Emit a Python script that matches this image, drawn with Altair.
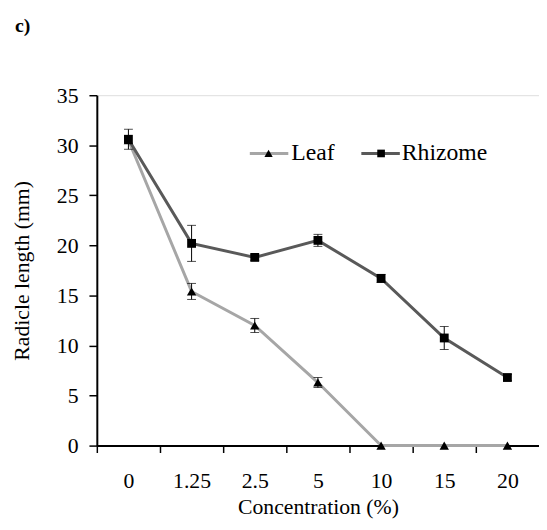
import altair as alt
import pandas as pd

categories = ["0", "1.25", "2.5", "5", "10", "15", "20"]
leaf_mean = [30.5, 15.4, 12.0, 6.3, 0.0, 0.0, 0.0]
leaf_err = [0.0, 0.8, 0.7, 0.5, 0.0, 0.0, 0.0]
rhizome_mean = [30.6, 20.2, 18.8, 20.5, 16.7, 10.75, 6.8]
rhizome_err = [1.0, 1.8, 0.3, 0.6, 0.4, 1.15, 0.3]
y_ticks = [0, 5, 10, 15, 20, 25, 30, 35]

rows = []
for i, c in enumerate(categories):
    rows.append({"idx": i, "conc": c, "series": "Leaf", "mean": leaf_mean[i], "err": leaf_err[i]})
for i, c in enumerate(categories):
    rows.append({"idx": i, "conc": c, "series": "Rhizome", "mean": rhizome_mean[i], "err": rhizome_err[i]})
df = pd.DataFrame(rows)
df["lo"] = df["mean"] - df["err"]
df["hi"] = df["mean"] + df["err"]

FONT = "Liberation Serif"
n = len(categories)
W = 448
band = W / n
tick_vals = [i - 0.5 for i in range(n)]
# label for the tick at (i - 0.5) is category i, shifted half a band to the right
expr = "''"
for i in reversed(range(n)):
    expr = "(round(datum.value + 0.5) == %d ? '%s' : %s)" % (i, categories[i], expr)

x_enc = alt.X(
    "idx:Q",
    scale=alt.Scale(domain=[-0.5, n - 0.5], nice=False, zero=False),
    axis=alt.Axis(
        values=tick_vals,
        labelExpr=expr,
        labelOverlap=False,
        labelFlush=False,
        labelOffset=band / 2,
        labelAlign="center",
        title="Concentration (%)",
        grid=False,
        domainColor="black", domainWidth=2,
        tickColor="black", tickWidth=1.5, tickSize=7,
        labelFont=FONT, labelFontSize=22, labelColor="black", labelPadding=18,
        titleFont=FONT, titleFontSize=22, titleFontWeight="normal", titleColor="black",
        titlePadding=6,
    ),
)
y_enc = alt.Y(
    "mean:Q",
    scale=alt.Scale(domain=[0, 35], nice=False),
    axis=alt.Axis(
        values=y_ticks,
        title="Radicle length (mm)",
        grid=False,
        domainColor="black", domainWidth=2,
        tickColor="black", tickWidth=1.5, tickSize=8,
        labelFont=FONT, labelFontSize=22, labelColor="black", labelPadding=11,
        titleFont=FONT, titleFontSize=22, titleFontWeight="normal", titleColor="black",
        titlePadding=23,
    ),
)

base = alt.Chart(df)
color_scale = alt.Scale(domain=["Leaf", "Rhizome"], range=["#a6a6a6", "#595959"])

lines = base.mark_line(strokeWidth=3).encode(
    x=x_enc, y=y_enc,
    color=alt.Color("series:N", scale=color_scale, legend=None),
    detail="series:N",
)

err = base.transform_filter("datum.err > 0")
err_rule = err.mark_rule(color="black", strokeWidth=1).encode(
    x="idx:Q", y="lo:Q", y2="hi:Q"
)
err_lo = err.mark_tick(color="black", orient="horizontal", size=9, thickness=1).encode(
    x="idx:Q", y="lo:Q"
)
err_hi = err.mark_tick(color="black", orient="horizontal", size=9, thickness=1).encode(
    x="idx:Q", y="hi:Q"
)

leaf_pts = base.transform_filter("datum.series === 'Leaf'").mark_point(
    shape="triangle-up", filled=True, color="black", opacity=1, size=90
).encode(x="idx:Q", y="mean:Q")
rhiz_pts = base.transform_filter("datum.series === 'Rhizome'").mark_point(
    shape="square", filled=True, color="black", opacity=1, size=80
).encode(x="idx:Q", y="mean:Q")

# manual legend
leg_leaf_data = alt.Data(values=[{"label": "Leaf"}])
leg_rhiz_data = alt.Data(values=[{"label": "Rhizome"}])
LY = 59
leg = [
    alt.Chart(leg_leaf_data).mark_rule(color="#a6a6a6", strokeWidth=3).encode(
        x=alt.value(155), x2=alt.value(194), y=alt.value(LY)),
    alt.Chart(leg_leaf_data).mark_point(shape="triangle-up", filled=True, color="black", opacity=1, size=70).encode(
        x=alt.value(174), y=alt.value(LY)),
    alt.Chart(leg_leaf_data).mark_text(font=FONT, fontSize=24, align="left", baseline="middle", color="black").encode(
        x=alt.value(197), y=alt.value(LY), text="label:N"),
    alt.Chart(leg_rhiz_data).mark_rule(color="#595959", strokeWidth=3).encode(
        x=alt.value(268), x2=alt.value(307), y=alt.value(LY)),
    alt.Chart(leg_rhiz_data).mark_point(shape="square", filled=True, color="black", opacity=1, size=60).encode(
        x=alt.value(288), y=alt.value(LY)),
    alt.Chart(leg_rhiz_data).mark_text(font=FONT, fontSize=24, align="left", baseline="middle", color="black").encode(
        x=alt.value(309), y=alt.value(LY), text="label:N"),
]

panel_label = alt.Chart(alt.Data(values=[{"t": "c)"}])).mark_text(
    font=FONT, fontSize=20, fontWeight="bold", align="left", baseline="middle", color="black"
).encode(x=alt.value(-83), y=alt.value(-70), text="t:N")

chart = alt.layer(
    lines, err_rule, err_lo, err_hi, leaf_pts, rhiz_pts, *leg, panel_label
).properties(
    width=W, height=355,
    autosize=alt.AutoSizeParams(type="none"),
    padding={"left": 90, "top": 85, "right": 0, "bottom": 71},
).configure_view(stroke=None).configure(background="white")

chart.save("out.html", embed_options={"renderer": "svg", "actions": False})
